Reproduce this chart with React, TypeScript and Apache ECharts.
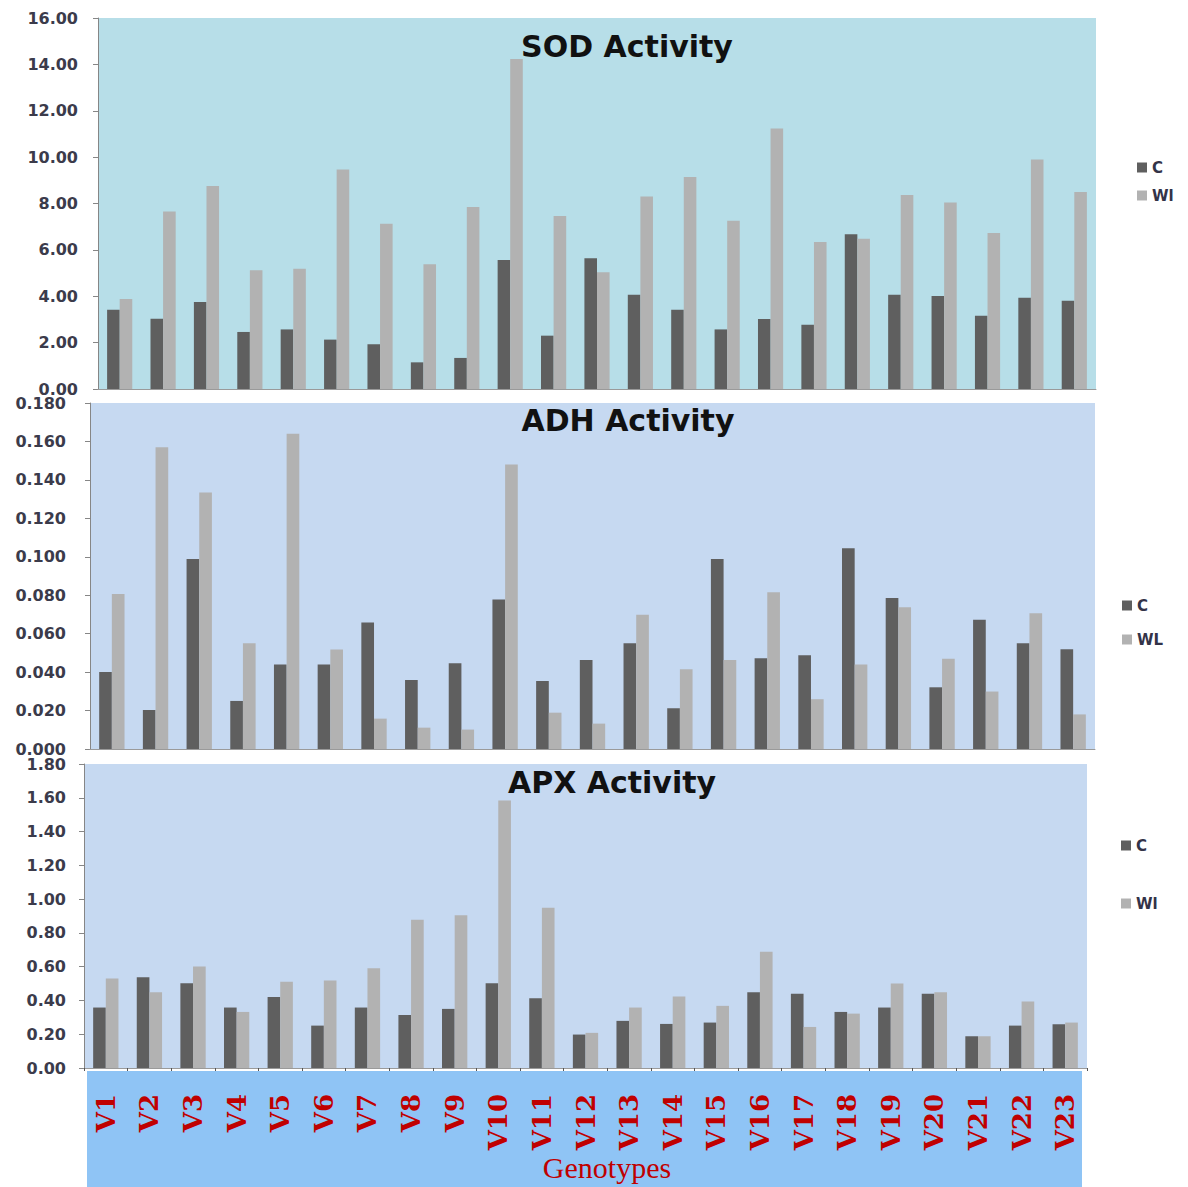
import React, { useEffect, useRef } from "react";
import * as echarts from "echarts";

const genotypes = ["V1", "V2", "V3", "V4", "V5", "V6", "V7", "V8", "V9", "V10", "V11", "V12", "V13", "V14", "V15", "V16", "V17", "V18", "V19", "V20", "V21", "V22", "V23"];

const sodC = [3.42, 3.03, 3.75, 2.46, 2.57, 2.13, 1.93, 1.15, 1.34, 5.56, 2.3, 5.64, 4.07, 3.42, 2.57, 3.02, 2.77, 6.67, 4.07, 4.01, 3.16, 3.94, 3.81];
const sodWL = [3.88, 7.65, 8.75, 5.12, 5.19, 9.47, 7.13, 5.38, 7.85, 14.23, 7.46, 5.03, 8.3, 9.14, 7.26, 11.23, 6.34, 6.48, 8.37, 8.04, 6.73, 9.9, 8.5];

const adhC = [0.04, 0.0203, 0.0989, 0.025, 0.0439, 0.0439, 0.0658, 0.0359, 0.0446, 0.0778, 0.0354, 0.0463, 0.055, 0.0212, 0.0989, 0.0472, 0.0488, 0.1045, 0.0786, 0.0321, 0.0673, 0.055, 0.0519];
const adhWL = [0.0807, 0.157, 0.1335, 0.055, 0.164, 0.0517, 0.0158, 0.0111, 0.0101, 0.148, 0.0189, 0.0132, 0.0698, 0.0415, 0.0463, 0.0816, 0.0259, 0.0439, 0.0738, 0.047, 0.0299, 0.0706, 0.018];

const apxC = [0.358, 0.538, 0.502, 0.358, 0.421, 0.251, 0.358, 0.314, 0.35, 0.502, 0.413, 0.198, 0.279, 0.261, 0.269, 0.449, 0.439, 0.332, 0.358, 0.439, 0.188, 0.251, 0.259];
const apxWL = [0.53, 0.449, 0.601, 0.332, 0.51, 0.518, 0.591, 0.878, 0.904, 1.584, 0.949, 0.208, 0.358, 0.423, 0.368, 0.688, 0.243, 0.322, 0.5, 0.449, 0.188, 0.394, 0.269];

const titles = ["SOD Activity", "ADH Activity", "APX Activity"];
const legendNames = [["C", "Wl"], ["C", "WL"], ["C", "Wl"]];
const axisRanges = [
  { max: 16, interval: 2, decimals: 2 },
  { max: 0.18, interval: 0.02, decimals: 3 },
  { max: 1.8, interval: 0.2, decimals: 2 },
];
const xAxisTitle = "Genotypes";

const DARK = "#5f5f5f";
const LIGHT = "#b2b2b2";

export default function App() {
  const ref = useRef<HTMLDivElement>(null);
  useEffect(() => {
    document.body.style.margin = "0";
    const chart = echarts.init(ref.current!, null, { renderer: "svg" });

    const grids = [
      { left: 98, top: 18, width: 998, height: 371, bg: "#b7dee8" },
      { left: 90, top: 403, width: 1005, height: 346, bg: "#c6d9f1" },
      { left: 84, top: 764, width: 1003, height: 304, bg: "#c6d9f1" },
    ];
    const labelMargins = [20, 24, 18];
    const titleY = [26, 400, 762];
    const titleX = [622, 623, 607];
    const legendPos = [
      { left: 1132, top: 155, gap: 13 },
      { left: 1117, top: 593, gap: 19 },
      { left: 1116, top: 833, gap: 43 },
    ];
    const data = [
      [sodC, sodWL],
      [adhC, adhWL],
      [apxC, apxWL],
    ];

    const option: any = {
      animation: false,
      grid: grids.map((g) => ({
        left: g.left,
        top: g.top,
        width: g.width,
        height: g.height,
        show: true,
        backgroundColor: g.bg,
        borderWidth: 0,
      })),
      title: titles.map((t, i) => ({
        text: t,
        left: titleX[i],
        top: titleY[i],
        textAlign: "center",
        textStyle: {
          fontFamily: "DejaVu Sans",
          fontWeight: "bold",
          fontSize: 30,
          color: "#111",
        },
      })),
      legend: legendNames.map((names, i) => ({
        data: names,
        orient: "vertical",
        left: legendPos[i].left,
        top: legendPos[i].top,
        itemGap: legendPos[i].gap,
        itemWidth: 10,
        itemHeight: 10,
        icon: "rect",
        selectedMode: false,
        textStyle: {
          fontFamily: "DejaVu Sans",
          fontWeight: "bold",
          fontSize: 15,
          color: "#333348",
        },
      })),
      xAxis: grids.map((g, i) => ({
        type: "category",
        gridIndex: i,
        data: genotypes,
        axisLine: { show: true, lineStyle: { color: "#9a9a9a" } },
        axisTick: i === 2 ? { show: true, length: 3, lineStyle: { color: "#555" } } : { show: false },
        axisLabel:
          i === 2
            ? {
                show: true,
                rotate: 90,
                interval: 0,
                margin: 26,
                color: "#c00000",
                fontFamily: "DejaVu Serif",
                fontWeight: "bold",
                fontSize: 26,
              }
            : { show: false },
        splitLine: { show: false },
        z: 5,
      })),
      yAxis: axisRanges.map((r, i) => ({
        type: "value",
        gridIndex: i,
        min: 0,
        max: r.max,
        interval: r.interval,
        axisLine: { show: true, lineStyle: { color: "#868686" } },
        axisTick: { show: true, length: 5, inside: false, lineStyle: { color: "#868686" } },
        splitLine: { show: false },
        axisLabel: {
          margin: labelMargins[i],
          fontFamily: "DejaVu Sans",
          fontWeight: "bold",
          fontSize: 16,
          color: "#3b3b4b",
          formatter: (v: number) => v.toFixed(r.decimals),
        },
      })),
      series: data.flatMap((pair, i) =>
        pair.map((vals, j) => ({
          type: "bar",
          name: legendNames[i][j],
          xAxisIndex: i,
          yAxisIndex: i,
          data: vals,
          barGap: "0%",
          barCategoryGap: "42%",
          itemStyle: { color: j === 0 ? DARK : LIGHT },
        }))
      ),
      graphic: [
        {
          type: "rect",
          z: -10,
          shape: { x: 87, y: 1071, width: 995, height: 116 },
          style: { fill: "#8fc4f5" },
        },
        {
          type: "text",
          z: 10,
          x: 607,
          y: 1167,
          style: {
            text: xAxisTitle,
            fill: "#c00000",
            fontFamily: "Liberation Serif",
            fontSize: 30,
            textAlign: "center",
            textVerticalAlign: "middle",
          },
        },
      ],
    };
    chart.setOption(option);
    return () => chart.dispose();
  }, []);
  return <div ref={ref} style={{ width: 1188, height: 1187 }} />;
}
